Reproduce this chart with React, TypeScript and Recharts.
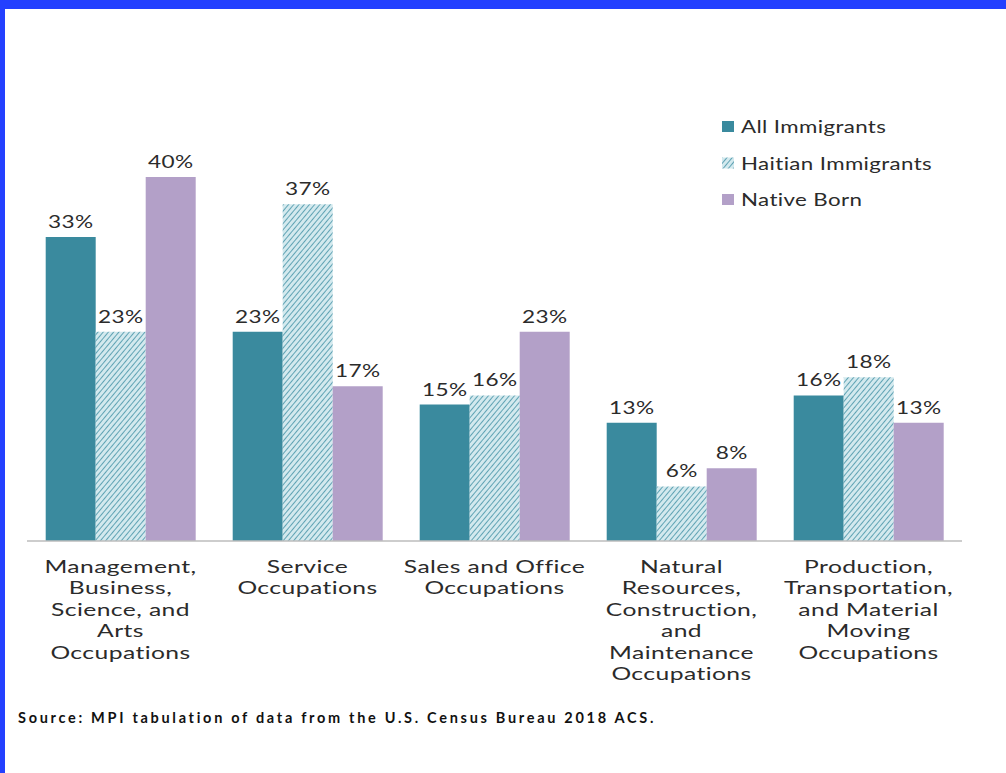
import React from 'react';
import { BarChart, Bar, XAxis, YAxis, LabelList } from 'recharts';

const categories = [
  'Management,|Business,|Science, and|Arts|Occupations',
  'Service|Occupations',
  'Sales and Office|Occupations',
  'Natural|Resources,|Construction,|and|Maintenance|Occupations',
  'Production,|Transportation,|and Material|Moving|Occupations',
];
const allImmigrants = [33.4, 23, 15, 13, 16];
const haitianImmigrants = [23, 37, 16, 6, 18];
const nativeBorn = [40, 17, 23, 8, 13];

const data = categories.map((c, i) => ({
  category: c,
  all: allImmigrants[i],
  haitian: haitianImmigrants[i],
  native: nativeBorn[i],
}));

const TEAL = '#3a8a9e';
const LAVENDER = '#b3a0c8';
const TEXT = '#2b2b2b';
const FONT = 'Lato, "Open Sans", sans-serif';

const HatchDef = ({ id }: { id: string }) => (
  <pattern id={id} patternUnits="userSpaceOnUse" width="4" height="4" patternTransform="rotate(40)">
    <rect width="4" height="4" fill="#d3e9ee" />
    <line x1="0" y1="0" x2="0" y2="4" stroke="#5a9fb1" strokeWidth="1.9" />
  </pattern>
);

const CategoryTick = (props: any) => {
  const { x, y, payload } = props;
  const lines = String(payload.value).split('|');
  return (
    <g transform={`translate(${x}, ${y + 24}) scale(1.37, 1)`}>
      <text x={0} y={0} textAnchor="middle" fill={TEXT} fontFamily={FONT} fontSize={18} letterSpacing={0.3}>
        {lines.map((l: string, i: number) => (
          <tspan key={i} x={0} dy={i === 0 ? 0 : 21.5}>{l}</tspan>
        ))}
      </text>
    </g>
  );
};

const PctLabel = (props: any) => {
  const { x, y, width, value } = props;
  return (
    <g transform={`translate(${x + width / 2}, ${y - 9}) scale(1.33, 1)`}>
      <text x={0} y={0} textAnchor="middle" fill={TEXT} fontFamily={FONT} fontSize={17} letterSpacing={0.3}>
        {`${Math.round(value)}%`}
      </text>
    </g>
  );
};

const legendItems = [
  { label: 'All Immigrants', fill: TEAL },
  { label: 'Haitian Immigrants', fill: 'url(#hatchLegend)' },
  { label: 'Native Born', fill: LAVENDER },
];

const App: React.FC = () => {
  return (
    <div style={{ position: 'absolute', left: 0, top: 0, width: 1006, height: 773, background: '#fff', overflow: 'hidden' }}>
      <div style={{ position: 'absolute', left: 0, top: 0, width: 1006, height: 9, background: '#2340ff' }} />
      <div style={{ position: 'absolute', left: 0, top: 0, width: 5, height: 773, background: '#2340ff' }} />
      <BarChart
        width={1006}
        height={773}
        data={data}
        margin={{ top: 177, right: 44, left: 27, bottom: 82 }}
        barCategoryGap="10%"
        barGap={0}
      >
        <defs>
          <HatchDef id="hatch" />
        </defs>
        <XAxis
          dataKey="category"
          tick={<CategoryTick />}
          tickLine={false}
          axisLine={{ stroke: '#bdbdbd', strokeWidth: 1.5 }}
          interval={0}
          height={150}
        />
        <YAxis hide domain={[0, 40]} />
        <Bar dataKey="all" name="All Immigrants" fill={TEAL} isAnimationActive={false}>
          <LabelList dataKey="all" content={<PctLabel />} />
        </Bar>
        <Bar dataKey="haitian" name="Haitian Immigrants" fill="url(#hatch)" isAnimationActive={false}>
          <LabelList dataKey="haitian" content={<PctLabel />} />
        </Bar>
        <Bar dataKey="native" name="Native Born" fill={LAVENDER} isAnimationActive={false}>
          <LabelList dataKey="native" content={<PctLabel />} />
        </Bar>
      </BarChart>
      <svg width={280} height={110} style={{ position: 'absolute', left: 720, top: 110 }}>
        <defs>
          <HatchDef id="hatchLegend" />
        </defs>
        {legendItems.map((it, i) => (
          <g key={i} transform={`translate(0, ${i * 36.5})`}>
            <rect x={2} y={11} width={12} height={11} fill={it.fill} />
            <g transform={`translate(21, 23) scale(1.24, 1)`}>
              <text x={0} y={0} fill={TEXT} fontFamily={FONT} fontSize={18} letterSpacing={0.3}>{it.label}</text>
            </g>
          </g>
        ))}
      </svg>
      <div style={{ position: 'absolute', left: 18, top: 709, fontFamily: FONT, fontWeight: 700, fontSize: 14.5, letterSpacing: 2.7, color: '#111', whiteSpace: 'nowrap' }}>
        Source: MPI tabulation of data from the U.S. Census Bureau 2018 ACS.
      </div>
    </div>
  );
};

export default App;
